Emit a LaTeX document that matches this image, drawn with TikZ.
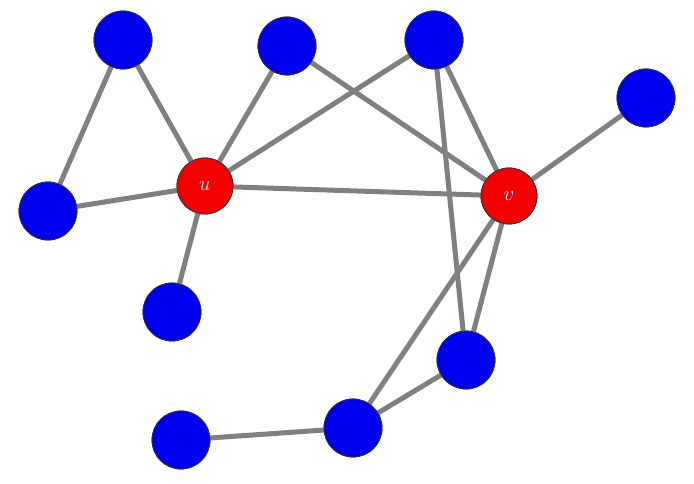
\documentclass[tikz,border=0pt]{standalone}
\begin{document}
\begin{tikzpicture}[x=1pt,y=1pt,
  bn/.style={circle,draw=black!80,line width=0.8pt,fill={rgb,255:red,0;green,0;blue,240},minimum size=58pt,inner sep=0pt},
  rn/.style={circle,draw=black!80,line width=0.8pt,fill={rgb,255:red,245;green,0;blue,0},minimum size=56pt,inner sep=0pt,text=white,font=\huge},
  ed/.style={draw=black!50,line width=5pt}]
\useasboundingbox (0,0) rectangle (694,484);
\node[bn] (A) at (123,444) {};
\node[bn] (B) at (287,438) {};
\node[bn] (C) at (434,444) {};
\node[bn] (D) at (646,386) {};
\node[bn] (E) at (48,273) {};
\node[rn] (u) at (205,298) {$u$};
\node[rn] (v) at (509,288) {$v$};
\node[bn] (F) at (172,172) {};
\node[bn] (G) at (466,124) {};
\node[bn] (H) at (353,56) {};
\node[bn] (I) at (181,44) {};
\begin{scope}[on background layer/.style={}]
\foreach \a/\b in {A/E,A/u,E/u,B/u,C/u,u/F,u/v,B/v,C/v,C/G,D/v,v/G,v/H,G/H,H/I}
  \path[ed] (\a.center) -- (\b.center);
\end{scope}
\foreach \n in {A,B,C,D,E,F,G,H,I} \node[bn] at (\n) {};
\node[rn] at (u) {$u$};
\node[rn] at (v) {$v$};
\end{tikzpicture}
\end{document}
